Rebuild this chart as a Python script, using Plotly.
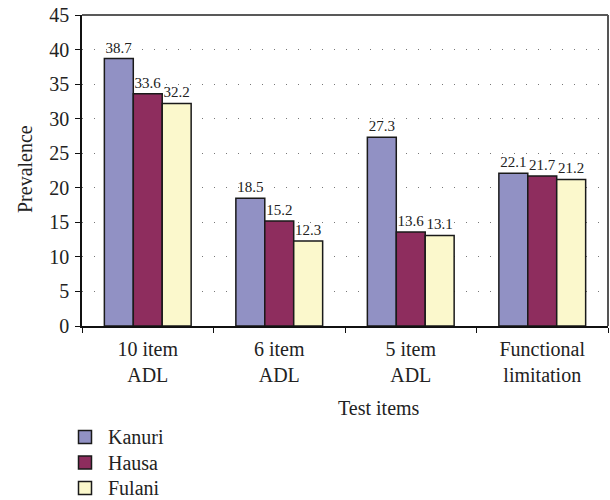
import plotly.graph_objects as go

categories = ["10 item<br>ADL", "6 item<br>ADL", "5 item<br>ADL", "Functional<br>limitation"]
kanuri = [38.7, 18.5, 27.3, 22.1]
hausa = [33.6, 15.2, 13.6, 21.7]
fulani = [32.2, 12.3, 13.1, 21.2]
series_names = ["Kanuri", "Hausa", "Fulani"]
colors = ["#9191c4", "#8e2d5e", "#fbf8cc"]

FONT = "'Liberation Serif', 'Times New Roman', serif"
W, H = 610, 500
L, R, T, B = 82, 2, 15, 174
PW, PH = W - L - R, H - T - B


def px(x):
    return (x - L) / PW


def py(y):
    return (H - B - y) / PH


fig = go.Figure()
for name, vals, col in zip(series_names, [kanuri, hausa, fulani], colors):
    fig.add_trace(go.Bar(
        x=categories, y=vals, name=name,
        marker=dict(color=col, line=dict(color="#1a1a1a", width=1.5)),
        text=[f"{v:.1f}" for v in vals], textposition="outside",
        textfont=dict(family=FONT, size=15, color="#222"),
        cliponaxis=False, showlegend=False,
    ))

fig.update_layout(
    width=W, height=H,
    margin=dict(l=L, r=R, t=T, b=B, autoexpand=False),
    paper_bgcolor="white", plot_bgcolor="white",
    barmode="group", bargap=0.34, bargroupgap=0,
    font=dict(family=FONT, size=20, color="#222"),
    showlegend=False,
    xaxis=dict(
        showline=True, linecolor="#111", linewidth=1.5, mirror=False,
        ticks="outside", tickson="boundaries", ticklen=5, tickcolor="#111",
        tickfont=dict(family=FONT, size=20, color="#222"), ticklabelstandoff=4,
        showgrid=False, automargin=False,
    ),
    yaxis=dict(
        range=[0, 45], dtick=5,
        showline=True, linecolor="#111", linewidth=1.5,
        ticks="outside", ticklen=5, tickcolor="#111",
        tickfont=dict(family=FONT, size=20, color="#222"), ticklabelstandoff=2,
        showgrid=True, gridcolor="#777", gridwidth=1, griddash="1px,11px",
        zeroline=False, automargin=False,
    ),
)
# frame: top and right
fig.add_shape(type="line", xref="paper", yref="paper", x0=0, x1=1, y0=1, y1=1,
              line=dict(color="#222", width=1.5))
fig.add_shape(type="line", xref="paper", yref="paper", x0=1, x1=1, y0=0, y1=1,
              line=dict(color="#555", width=2))

# axis titles
fig.add_annotation(text="Prevalence", xref="paper", yref="paper", x=px(25), y=py(169),
                   xanchor="center", yanchor="middle",
                   textangle=-90, showarrow=False, font=dict(family=FONT, size=20, color="#222"))
fig.add_annotation(text="Test items", xref="paper", yref="paper", x=px(379), y=py(408),
                   xanchor="center", yanchor="middle",
                   showarrow=False, font=dict(family=FONT, size=20, color="#222"))

# legend
for i, (name, col) in enumerate(zip(series_names, colors)):
    cy = 437 + i * 25.5
    fig.add_shape(type="rect", xref="paper", yref="paper",
                  x0=px(78.5), x1=px(91.5), y0=py(cy - 6.5), y1=py(cy + 6.5),
                  fillcolor=col, line=dict(color="#1a1a1a", width=1.5))
    fig.add_annotation(text=name, xref="paper", yref="paper", x=px(106), y=py(cy),
                       xanchor="left", yanchor="middle", showarrow=False,
                       font=dict(family=FONT, size=20, color="#222"))

fig.write_html("out.html")
